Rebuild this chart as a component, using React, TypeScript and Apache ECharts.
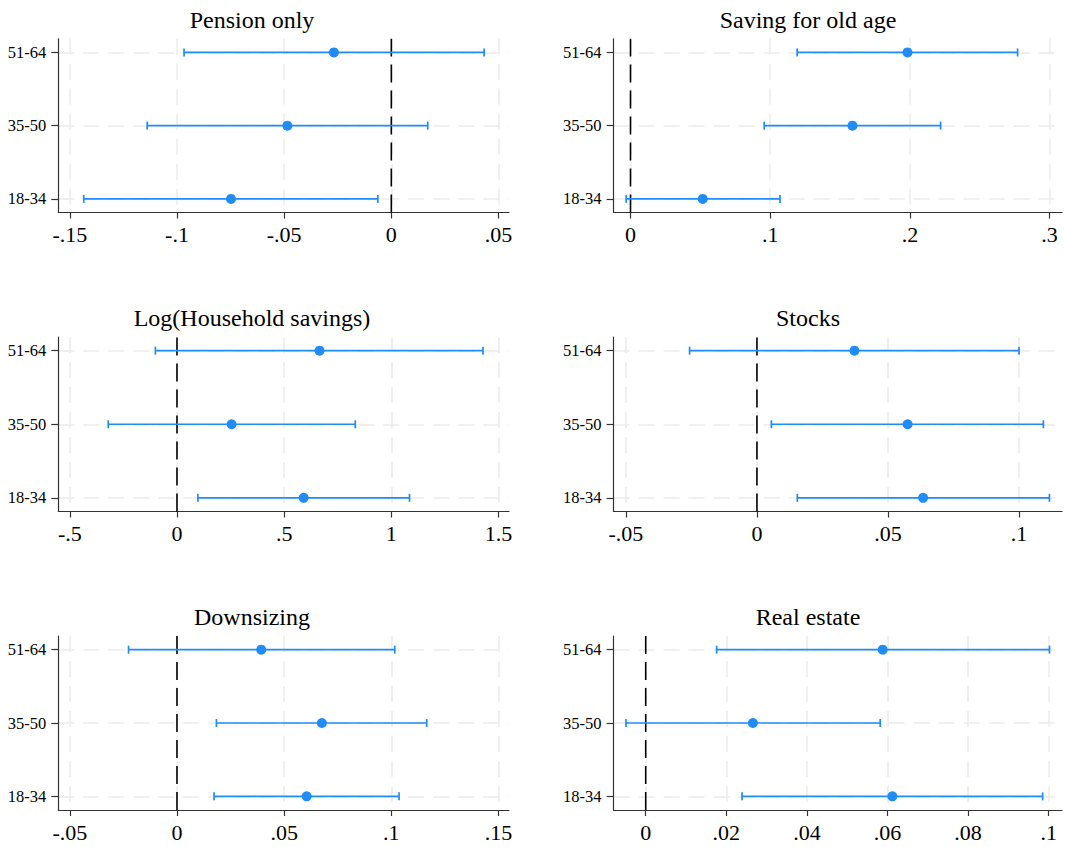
import React, { useEffect, useRef } from "react";
import * as echarts from "echarts";

// ---- data ----
const ageGroups = ["18-34", "35-50", "51-64"]; // y positions 1,2,3
const panelTitles = [
  "Pension only",
  "Saving for old age",
  "Log(Household savings)",
  "Stocks",
  "Downsizing",
  "Real estate",
];
// point estimates, order: 18-34, 35-50, 51-64
const pensionEst = [-0.0748, -0.0485, -0.0268];
const pensionLo = [-0.1435, -0.1139, -0.0967];
const pensionHi = [-0.0063, 0.017, 0.0433];

const savingEst = [0.0517, 0.1589, 0.1983];
const savingLo = [-0.0031, 0.0957, 0.1193];
const savingHi = [0.107, 0.222, 0.2771];

const logSavEst = [0.5912, 0.2547, 0.665];
const logSavLo = [0.0975, -0.3208, -0.1006];
const logSavHi = [1.0849, 0.8318, 1.4277];

const stocksEst = [0.0634, 0.0575, 0.0372];
const stocksLo = [0.0154, 0.0055, -0.0257];
const stocksHi = [0.1116, 0.1093, 0.1];

const downEst = [0.0605, 0.0676, 0.0393];
const downLo = [0.0173, 0.0184, -0.0226];
const downHi = [0.1036, 0.1165, 0.1016];

const realEst = [0.0612, 0.0266, 0.0588];
const realLo = [0.0239, -0.0049, 0.0176];
const realHi = [0.0985, 0.0582, 0.1002];

// x tick values
const pensionTicks = [-0.15, -0.1, -0.05, 0, 0.05];
const savingTicks = [0, 0.1, 0.2, 0.3];
const logSavTicks = [-0.5, 0, 0.5, 1, 1.5];
const stocksTicks = [-0.05, 0, 0.05, 0.1];
const downTicks = [-0.05, 0, 0.05, 0.1, 0.15];
const realTicks = [0, 0.02, 0.04, 0.06, 0.08, 0.1];

const panels = [
  { est: pensionEst, lo: pensionLo, hi: pensionHi, ticks: pensionTicks, min: -0.15537, max: 0.0549 },
  { est: savingEst, lo: savingLo, hi: savingHi, ticks: savingTicks, min: -0.0121, max: 0.3089 },
  { est: logSavEst, lo: logSavLo, hi: logSavHi, ticks: logSavTicks, min: -0.5537, max: 1.549 },
  { est: stocksEst, lo: stocksLo, hi: stocksHi, ticks: stocksTicks, min: -0.0547, max: 0.1164 },
  { est: downEst, lo: downLo, hi: downHi, ticks: downTicks, min: -0.05537, max: 0.1549 },
  { est: realEst, lo: realLo, hi: realHi, ticks: realTicks, min: -0.00797, max: 0.1033 },
];

const Y_MIN = 0.814;
const Y_MAX = 3.186;
const BLUE = "#1f8cf8";
const FONT = "Liberation Serif";

const fmt = (v: number) => {
  const s = String(+v.toFixed(4));
  return s.replace(/^(-?)0\./, "$1.");
};

export default function App() {
  const ref = useRef<HTMLDivElement>(null);
  useEffect(() => {
    if (!ref.current) return;
    const chart = echarts.init(ref.current, null, { renderer: "svg" });
    const colLeft = [58.3, 613.6];
    const colWidth = [450.7, 448.4];
    const rowTop = [38.8, 337, 636];
    const rowHeight = [173.7, 174.5, 174];
    const titleX = [252, 808];
    const titleY = [20, 318, 617];

    const grid: any[] = [];
    const xAxis: any[] = [];
    const yAxis: any[] = [];
    const series: any[] = [];
    const graphic: any[] = [];

    panels.forEach((p, i) => {
      const col = i % 2;
      const row = Math.floor(i / 2);
      grid.push({
        left: colLeft[col],
        top: rowTop[row],
        width: colWidth[col],
        height: rowHeight[row],
        containLabel: false,
      });
      xAxis.push({
        type: "value",
        gridIndex: i,
        min: p.min,
        max: p.max,
        axisLine: { show: true, onZero: false, lineStyle: { color: "#333", width: 1.2 } },
        axisTick: {
          show: true,
          length: 6,
          customValues: p.ticks,
          lineStyle: { color: "#333", width: 1.2 },
        },
        axisLabel: {
          customValues: p.ticks,
          formatter: (v: number) => fmt(v),
          fontFamily: FONT,
          fontSize: 22,
          color: "#000",
          margin: 11,
        },
        splitLine: {
          show: true,
          lineStyle: { color: "#ebebeb", width: 1.5, type: [16, 9] },
        },
      });
      yAxis.push({
        type: "value",
        gridIndex: i,
        min: Y_MIN,
        max: Y_MAX,
        axisLine: { show: true, onZero: false, lineStyle: { color: "#333", width: 1.2 } },
        axisTick: {
          show: true,
          length: 7,
          customValues: [1, 2, 3],
          lineStyle: { color: "#333", width: 1.2 },
        },
        axisLabel: {
          customValues: [1, 2, 3],
          formatter: (v: number) => ageGroups[Math.round(v) - 1] ?? "",
          fontFamily: FONT,
          fontSize: 16.5,
          color: "#000",
          margin: 12,
        },
        splitLine: {
          show: true,
          lineStyle: { color: "#ebebeb", width: 1.5, type: [16, 9] },
        },
      });
      // zero reference line (dashed, black)
      series.push({
        type: "line",
        xAxisIndex: i,
        yAxisIndex: i,
        data: [
          [0, Y_MIN],
          [0, Y_MAX],
        ],
        showSymbol: false,
        symbol: "none",
        lineStyle: { color: "#000", width: 1.6, type: [18, 8] },
        silent: true,
        z: 2,
      });
      series.push({
        type: "custom",
        xAxisIndex: i,
        yAxisIndex: i,
        coordinateSystem: "cartesian2d",
        encode: { x: [1, 2], y: 0 },
        data: ageGroups.map((_, k) => [k + 1, p.lo[k], p.hi[k]]),
        renderItem: (params: any, api: any) => {
          const y = api.value(0);
          const a = api.coord([api.value(1), y]);
          const b = api.coord([api.value(2), y]);
          const h = 4;
          const st = { stroke: BLUE, lineWidth: 1.7 };
          return {
            type: "group",
            children: [
              { type: "line", shape: { x1: a[0], y1: a[1], x2: b[0], y2: b[1] }, style: st },
              { type: "line", shape: { x1: a[0], y1: a[1] - h, x2: a[0], y2: a[1] + h }, style: st },
              { type: "line", shape: { x1: b[0], y1: b[1] - h, x2: b[0], y2: b[1] + h }, style: st },
            ],
          };
        },
        silent: true,
        z: 3,
      });
      series.push({
        type: "scatter",
        xAxisIndex: i,
        yAxisIndex: i,
        data: ageGroups.map((_, k) => [p.est[k], k + 1]),
        symbol: "circle",
        symbolSize: 10,
        itemStyle: { color: BLUE, opacity: 1 },
        silent: true,
        z: 4,
      });
      graphic.push({
        type: "text",
        x: titleX[col],
        y: titleY[row],
        style: {
          text: panelTitles[i],
          textAlign: "center",
          textVerticalAlign: "middle",
          font: `24px "${FONT}"`,
          fill: "#000",
        },
      });
    });

    chart.setOption({
      animation: false,
      backgroundColor: "#fff",
      grid,
      xAxis,
      yAxis,
      series,
      graphic,
    });
    return () => chart.dispose();
  }, []);
  return (
    <div
      ref={ref}
      style={{ position: "absolute", left: 0, top: 0, width: 1065, height: 847 }}
    />
  );
}
